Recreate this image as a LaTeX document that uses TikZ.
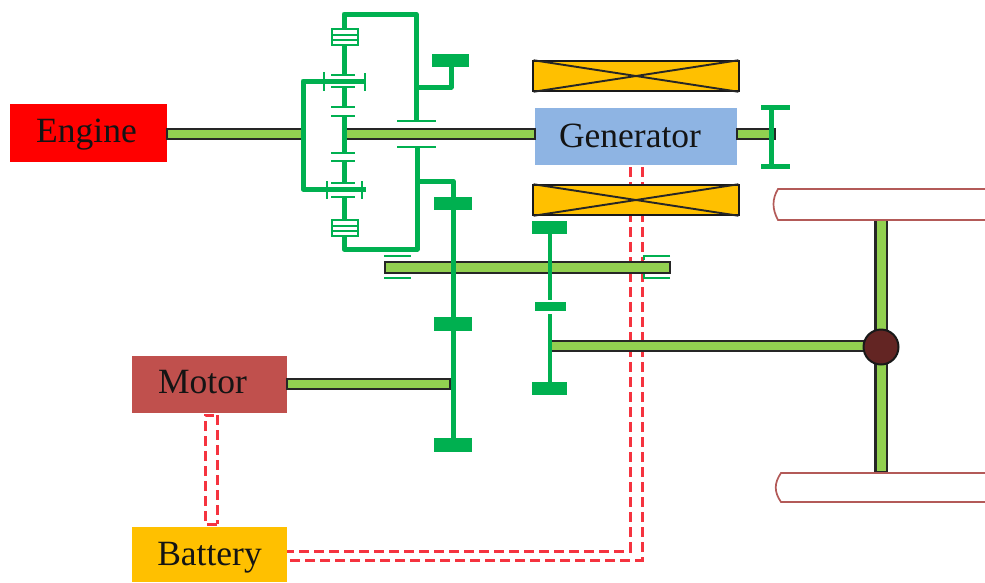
\documentclass[tikz,border=0pt]{standalone}
\usepackage{fontspec}
\setmainfont{Liberation Serif}
\usetikzlibrary{positioning,calc}
\definecolor{gearGreen}{HTML}{00B050}
\definecolor{shaftGreen}{HTML}{92D050}
\definecolor{statorYellow}{HTML}{FFC000}
\definecolor{generatorBlue}{HTML}{8EB4E3}
\definecolor{motorRed}{HTML}{C0504D}
\definecolor{wheelRed}{HTML}{B35A58}
\definecolor{diffBrown}{HTML}{632523}
\definecolor{wireRed}{HTML}{F5333F}

\begin{document}
\begin{tikzpicture}[
  x=1pt, y=-1pt,
  boxlabel/.style={font=\fontsize{35.5}{35.5}\selectfont, text=black!92, inner sep=0pt},
  gearline/.style={draw=gearGreen, line width=5pt, line join=round},
  gearthin/.style={draw=gearGreen, line width=4pt},
  bearing/.style={draw=gearGreen, line width=2pt},
  toothblock/.style={rectangle, fill=gearGreen, inner sep=0pt}
]
	\tikzstyle{powerBox} = [rectangle, inner sep=0pt]
	\tikzstyle{stator} = [rectangle, draw=black!90, line width=2pt, fill=statorYellow, inner sep=0pt, minimum width=206pt, minimum height=30pt]
	\tikzstyle{shaft} = [draw=black!85, line width=2.2pt, fill=shaftGreen]
	\tikzstyle{wire} = [draw=wireRed, line width=3pt, dash pattern=on 10pt off 5pt]
	\tikzstyle{wheel} = [draw=wheelRed, line width=1.7pt]
	\tikzstyle{cross} = [draw=black!85, line width=1.9pt, shorten >=1.5pt, shorten <=1.5pt]

	\useasboundingbox (0,0) rectangle (985,582);

	% boxes
	\node (engine) [powerBox, fill=red, minimum width=157pt, minimum height=58pt, label={[boxlabel, xshift=-2pt, yshift=-2pt]center:Engine}] at (88.5,133) {};
	\node (motor) [powerBox, fill=motorRed, minimum width=155pt, minimum height=57pt, label={[boxlabel, xshift=-7pt, yshift=2pt]center:Motor}] at (209.5,384.5) {};
	\node (battery) [powerBox, fill=statorYellow, minimum width=155pt, minimum height=55pt, label={[boxlabel, yshift=-3pt]center:Battery}] at (209.5,554.5) {};

	% wires
	\coordinate (wireMotorA) at (205,415);
	\coordinate (wireMotorB) at (217,415);
	\coordinate (wireBatteryA) at (205,524);
	\coordinate (wireBatteryB) at (217,524);
	\draw[wire] (wireMotorB) -- (wireBatteryB);
	\draw[wire] (wireBatteryA -| wireMotorB) -- (wireBatteryA) -- (wireMotorA) -- (wireMotorB);
	\coordinate (wireGenA) at (630,167);
	\coordinate (wireGenB) at (642,167);
	\draw[wire] (wireGenA) -- (630,551) -- (battery.east |- 630,551);
	\draw[wire] (wireGenB) -- (642,560) -- (battery.east |- 642,560);

	% stators and generator
	\node (statorTop) [stator] at (636,76) {};
	\node (statorBottom) [stator] at (636,200) {};
	\draw[cross] (statorTop.north west) -- (statorTop.south east);
	\draw[cross] (statorTop.south west) -- (statorTop.north east);
	\draw[cross] (statorBottom.north west) -- (statorBottom.south east);
	\draw[cross] (statorBottom.south west) -- (statorBottom.north east);
	\node (generator) [powerBox, fill=generatorBlue, minimum width=202pt, minimum height=57pt, label={[boxlabel, xshift=-6pt, yshift=1pt]center:Generator}] at (636,136.5) {};

	% shafts
	\draw[shaft] (engine.east |- 0,129) rectangle (304,139);
	\draw[shaft] (344,129) rectangle (generator.west |- 0,139);
	\draw[shaft] (generator.east |- 0,129) rectangle (775,139);
	\draw[shaft] (385,262) rectangle (670,273);
	\draw[shaft] (motor.east |- 0,379) rectangle (450,389);
	\draw[shaft] (549,341) rectangle (866,351);
	\draw[shaft] (875.5,220) rectangle (887,472);

	% wheels
	\draw[wheel] (985,189) -- (778,189) .. controls (772,199) and (772,209) .. (778,220) -- (985,220);
	\draw[wheel] (985,473) -- (781,473) .. controls (774,483) and (774,492) .. (781,502) -- (985,502);

	\node (differential) [circle, draw=black!90, line width=2pt, fill=diffBrown, minimum size=35pt, inner sep=0pt] at (881,347) {};

	% planetary gear
	\draw[gearline] (344,29) -- (344,14) -- (416,14) -- (416,121);
	\draw[gearline] (416,87) -- (451,87) -- (451,60);
	\node (sunBlockTop) [toothblock, minimum width=37pt, minimum height=13pt] at (450.5,60.5) {};
	\draw[gearline] (417,147) -- (417,249) -- (344,249) -- (344,236);
	\draw[gearline] (344,45) -- (344,75);
	\draw[gearline] (344,87) -- (344,107);
	\draw[gearline] (344,116) -- (344,153);
	\draw[gearline] (344,161) -- (344,183);
	\draw[gearline] (344,197) -- (344,220);
	\draw[gearline] (365,81) -- (303,81) -- (303,189) -- (366,189);
	\draw[bearing, line width=2.5pt] (324,72) -- (324,91);
	\draw[bearing, line width=2.5pt] (365,73) -- (365,91);
	\draw[bearing, line width=2.5pt] (327,181) -- (327,199);
	\draw[bearing, line width=2.5pt] (362,181) -- (362,199);

	\draw[bearing] (331,75) -- (355,75);
	\draw[bearing] (331,87) -- (355,87);
	\draw[bearing] (331,107) -- (355,107);
	\draw[bearing] (331,116) -- (355,116);
	\draw[bearing] (331,153) -- (355,153);
	\draw[bearing] (331,161) -- (355,161);
	\draw[bearing] (331,183) -- (355,183);
	\draw[bearing] (331,197) -- (355,197);
	\draw[bearing] (397,121) -- (436,121);
	\draw[bearing] (397,147) -- (436,147);
	\draw[bearing] (384,256) -- (411,256);
	\draw[bearing] (384,278) -- (411,278);
	\draw[bearing] (670,256) -- (644,256) -- (644,260);
	\draw[bearing] (670,278) -- (644,278) -- (644,274);

	% pinions
	\draw[bearing, fill=white] (332,29) rectangle (358,45);
	\draw[bearing] (332,34.5) -- (358,34.5);
	\draw[bearing] (332,39.5) -- (358,39.5);
	\draw[bearing, fill=white] (332,220) rectangle (358,236);
	\draw[bearing] (332,225.5) -- (358,225.5);
	\draw[bearing] (332,230.5) -- (358,230.5);

	% gear train
	\draw[gearline] (417,181) -- (453,181) -- (453,445);
	\node (ringBlockA) [toothblock, minimum width=38pt, minimum height=13pt] at (453,203.5) {};
	\node (ringBlockB) [toothblock, minimum width=38pt, minimum height=14pt] at (453,324) {};
	\node (ringBlockC) [toothblock, minimum width=38pt, minimum height=14pt] at (453,445) {};
	\draw[gearthin] (550,228) -- (550,300);
	\draw[gearthin] (550,314) -- (550,385);
	\node (finalBlockA) [toothblock, minimum width=35pt, minimum height=13pt] at (549.5,227.5) {};
	\node (finalBlockB) [toothblock, minimum width=31pt, minimum height=9pt] at (550,306.5) {};
	\node (finalBlockC) [toothblock, minimum width=35pt, minimum height=13pt] at (549.5,388.5) {};

	% brake
	\draw[gearline] (771,107) -- (771,166);
	\draw[gearline] (761,107) -- (790,107);
	\draw[gearline] (761,166) -- (790,166);
\end{tikzpicture}
\end{document}
